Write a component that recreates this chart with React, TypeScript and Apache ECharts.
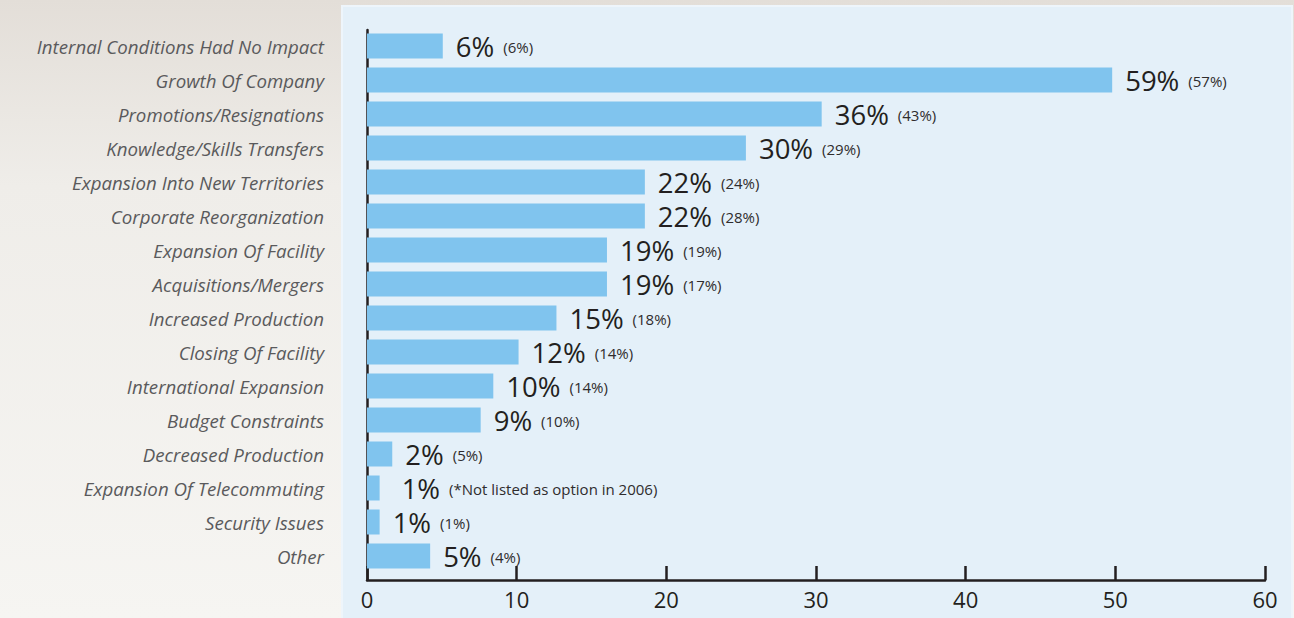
import React, { useEffect, useRef } from "react";
import * as echarts from "echarts";

// Reasons for internal conditions affecting the company (current year vs. prior year)
const categories = [
  "Internal Conditions Had No Impact",
  "Growth Of Company",
  "Promotions/Resignations",
  "Knowledge/Skills Transfers",
  "Expansion Into New Territories",
  "Corporate Reorganization",
  "Expansion Of Facility",
  "Acquisitions/Mergers",
  "Increased Production",
  "Closing Of Facility",
  "International Expansion",
  "Budget Constraints",
  "Decreased Production",
  "Expansion Of Telecommuting",
  "Security Issues",
  "Other",
];

const share2007 = [6, 59, 36, 30, 22, 22, 19, 19, 15, 12, 10, 9, 2, 1, 1, 5];
const share2006: (number | null)[] = [6, 57, 43, 29, 24, 28, 19, 17, 18, 14, 14, 10, 5, null, 1, 4];
const notListedNote = "(*Not listed as option in 2006)";

// Scale shown beneath the bars
const scaleMin = 0;
const scaleMax = 60;
const scaleStep = 10;
// Extent of the bar scale (bars are drawn on their own, wider scale)
const barScaleMax = 71.1;

const FONT = "'Open Sans', 'Noto Sans', sans-serif";

export default function App() {
  const ref = useRef<HTMLDivElement>(null);

  useEffect(() => {
    if (!ref.current) return;
    const chart = echarts.init(ref.current, null, { renderer: "svg" });

    const barData = share2007.map((v, i) => {
      const item: any = { value: v };
      if (share2006[i] === null) {
        item.label = { distance: 22 };
      }
      return item;
    });

    const option: echarts.EChartsOption = {
      animation: false,
      backgroundColor: "transparent",
      graphic: [
        {
          type: "rect",
          z: -10,
          silent: true,
          shape: { x: 0, y: 0, width: 1294, height: 618 },
          style: {
            fill: new echarts.graphic.LinearGradient(0, 0, 0, 1, [
              { offset: 0, color: "#e3ded8" },
              { offset: 0.3, color: "#efede9" },
              { offset: 1, color: "#f6f5f2" },
            ]),
          },
        },
        {
          type: "rect",
          z: -9,
          silent: true,
          shape: { x: 342, y: 6, width: 950, height: 620 },
          style: { fill: "#e4f0f9", stroke: "#eef5fb", lineWidth: 2 },
        },
      ],
      grid: [
        { left: 367, right: 29, top: 29, height: 544, containLabel: false },
        { left: 367, right: 29, top: 30, bottom: 38, containLabel: false },
      ],
      xAxis: [
        {
          type: "value",
          gridIndex: 0,
          min: 0,
          max: barScaleMax,
          show: false,
        },
        {
          type: "value",
          gridIndex: 1,
          min: scaleMin,
          max: scaleMax,
          interval: scaleStep,
          axisLine: { show: true, lineStyle: { color: "#231f20", width: 2.5 } },
          axisTick: {
            show: true,
            inside: true,
            length: 14,
            lineStyle: { color: "#231f20", width: 2.5 },
          },
          splitLine: { show: false },
          axisLabel: {
            fontFamily: FONT,
            fontSize: 22,
            color: "#231f20",
            margin: 8,
          },
        },
      ],
      yAxis: [
        {
          type: "category",
          gridIndex: 0,
          data: categories,
          inverse: true,
          axisLine: { show: false },
          axisTick: { show: false },
          splitLine: { show: false },
          axisLabel: {
            fontFamily: FONT,
            fontStyle: "italic",
            fontSize: 18.7,
            color: "#5a5a5c",
            margin: 43,
            padding: [0, 0, 2, 0],
          },
        },
        {
          type: "value",
          gridIndex: 1,
          min: 0,
          max: 1,
          axisLine: { show: true, lineStyle: { color: "#231f20", width: 2.5 } },
          axisTick: { show: false },
          axisLabel: { show: false },
          splitLine: { show: false },
        },
      ],
      series: [
        {
          type: "bar",
          xAxisIndex: 0,
          yAxisIndex: 0,
          data: barData,
          barWidth: 25,
          itemStyle: { color: "#80c4ee" },
          label: {
            show: true,
            position: "right",
            distance: 13,
            formatter: (p: any) => {
              const prior = share2006[p.dataIndex];
              const note = prior === null ? notListedNote : `(${prior}%)`;
              return `{big|${p.value}%}{small|${note}}`;
            },
            rich: {
              big: {
                fontFamily: FONT,
                fontSize: 27.5,
                lineHeight: 26,
                color: "#231f20",
                verticalAlign: "middle",
              },
              small: {
                fontFamily: FONT,
                fontSize: 15,
                lineHeight: 16,
                color: "#2f2c2d",
                padding: [2, 0, 0, 9],
                verticalAlign: "middle",
              },
            },
          },
        },
      ],
    };

    chart.setOption(option);
    return () => chart.dispose();
  }, []);

  return (
    <div
      ref={ref}
      style={{ position: "absolute", left: 0, top: 0, width: 1294, height: 618 }}
    />
  );
}
